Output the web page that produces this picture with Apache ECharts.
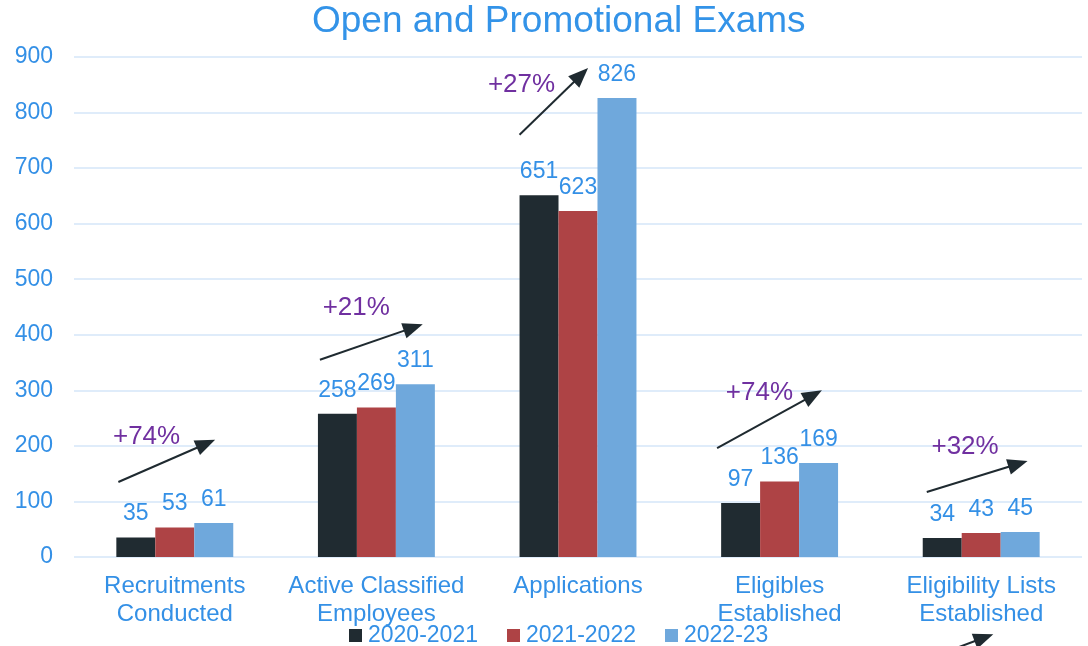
<!DOCTYPE html>
<html lang="en">
<head>
    <meta charset="utf-8">
    <title>Open and Promotional Exams</title>
    <script src="https://cdn.jsdelivr.net/npm/echarts@6/dist/echarts.min.js"></script>
    <style>
        html, body { margin: 0; padding: 0; background: #fff; }
        #chart { width: 1088px; height: 646px; }
    </style>
</head>
<body>
<div id="chart"></div>
<script type="text/javascript">
    // data
    var categories = ['Recruitments\nConducted', 'Active Classified\nEmployees', 'Applications', 'Eligibles\nEstablished', 'Eligibility Lists\nEstablished'];
    var seriesNames = ['2020-2021', '2021-2022', '2022-23'];
    var values2021 = [35, 258, 651, 97, 34];
    var values2022 = [53, 269, 623, 136, 43];
    var values2023 = [61, 311, 826, 169, 45];
    var yTicks = [0, 100, 200, 300, 400, 500, 600, 700, 800, 900];

    // growth arrows: [x0, y0, x1, y1] in (category position, value) units, text + its position
    var arrowLines = [
        [0.22, 135, 0.70, 211],
        [1.22, 355, 1.73, 419],
        [2.21, 760, 2.55, 880],
        [3.19, 196, 3.71, 300],
        [4.23, 117, 4.73, 173],
        [4.39, -162, 4.56, -139]
    ];
    var arrowTexts = ['+74%', '+21%', '+27%', '+74%', '+32%', ''];
    var textPos = [[0.36, 216], [1.40, 448], [2.22, 850], [3.40, 295], [4.42, 198], [0, 0]];

    var blueText = '#3490E6';
    var colors = ['#202B31', '#AE4345', '#6FA8DC'];

    var chart = echarts.init(document.getElementById('chart'));

    function barSeries(name, data, color) {
        return {
            name: name,
            type: 'bar',
            data: data,
            barGap: '0%',
            barCategoryGap: '42%',
            itemStyle: { color: color },
            label: {
                show: true,
                position: 'top',
                distance: 12,
                color: blueText,
                fontSize: 23,
                fontFamily: 'Liberation Sans'
            }
        };
    }

    var arrowData = arrowLines.map(function (a, i) {
        return [a[0], a[1], a[2], a[3], textPos[i][0], textPos[i][1], i];
    });

    chart.setOption({
        animation: false,
        textStyle: { fontFamily: 'Liberation Sans' },
        title: {
            text: 'Open and Promotional Exams',
            left: 307,
            top: -2,
            textStyle: { color: '#3393E8', fontSize: 37, fontWeight: 'normal', fontFamily: 'Liberation Sans' }
        },
        legend: {
            top: 619,
            left: 344,
            itemWidth: 13,
            itemHeight: 13,
            itemGap: 29,
            icon: 'rect',
            textStyle: { color: blueText, fontSize: 23, padding: [0, 0, 0, 1] },
            data: seriesNames
        },
        grid: { left: 74, right: 6, top: 57, bottom: 89 },
        xAxis: [{
            type: 'category',
            data: categories,
            axisLine: { show: false },
            axisTick: { show: false },
            axisLabel: { color: blueText, fontSize: 24, lineHeight: 28, margin: 15, interval: 0 }
        }, {
            type: 'value',
            min: 0,
            max: 5,
            show: false
        }],
        yAxis: {
            type: 'value',
            min: yTicks[0],
            max: yTicks[yTicks.length - 1],
            interval: 100,
            axisLine: { show: false },
            axisTick: { show: false },
            axisLabel: { color: blueText, fontSize: 23, margin: 21 },
            splitLine: { lineStyle: { color: '#D4E6F8', width: 1.5 } }
        },
        series: [
            barSeries(seriesNames[0], values2021, colors[0]),
            barSeries(seriesNames[1], values2022, colors[1]),
            barSeries(seriesNames[2], values2023, colors[2]),
            {
                type: 'custom',
                xAxisIndex: 1,
                clip: false,
                silent: true,
                z: 5,
                data: arrowData,
                renderItem: function (params, api) {
                    var p0 = api.coord([api.value(0), api.value(1)]);
                    var p1 = api.coord([api.value(2), api.value(3)]);
                    var idx = api.value(6);
                    var dx = p1[0] - p0[0], dy = p1[1] - p0[1];
                    var len = Math.sqrt(dx * dx + dy * dy);
                    var ux = dx / len, uy = dy / len;
                    var headLen = 20, headW = 8;
                    var bx = p1[0] - ux * headLen, by = p1[1] - uy * headLen;
                    var children = [{
                        type: 'line',
                        shape: { x1: p0[0], y1: p0[1], x2: bx + ux * 2, y2: by + uy * 2 },
                        style: { stroke: '#1F2A30', lineWidth: 2 }
                    }, {
                        type: 'polygon',
                        shape: { points: [p1, [bx - uy * headW, by + ux * headW], [bx + uy * headW, by - ux * headW]] },
                        style: { fill: '#1F2A30' }
                    }];
                    if (arrowTexts[idx]) {
                        var tp = api.coord([api.value(4), api.value(5)]);
                        children.push({
                            type: 'text',
                            x: tp[0],
                            y: tp[1],
                            style: {
                                text: arrowTexts[idx],
                                fill: '#7030A0',
                                fontSize: 26,
                                fontFamily: 'Liberation Sans',
                                align: 'center',
                                verticalAlign: 'middle'
                            }
                        });
                    }
                    return { type: 'group', children: children };
                }
            }
        ]
    });
</script>
</body>
</html>
